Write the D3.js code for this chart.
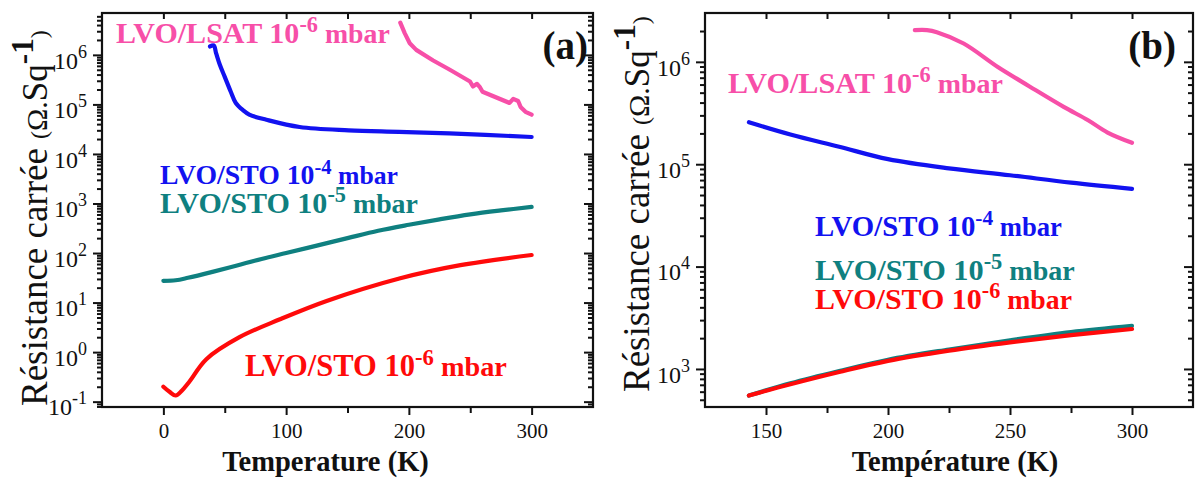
<!DOCTYPE html>
<html><head><meta charset="utf-8">
<script src="https://cdn.jsdelivr.net/npm/d3@7"></script>
<style>
body{margin:0;background:#fff}
svg{display:block}
</style>
</head><body>
<svg id="c" width="1196" height="480"></svg>
<script>
// ---------- DATA ----------
// Panel (a)
const tA_LSAT = [193, 196.6, 200.7, 206, 219.8, 233.4, 249.8, 252.2, 255.5, 258, 260, 282, 285, 289, 291, 295, 300];
const rA_LSAT = [4.47e6, 2.75e6, 1.72e6, 1.26e6, 7.7e5, 5.0e5, 2.9e5, 2.3e5, 2.6e5, 2.2e5, 1.8e5, 1.07e5, 1.29e5, 1.17e5, 8.9e4, 7.1e4, 6.2e4];
const tA_STO4 = [38, 41, 43, 46, 50, 55, 59, 65, 70, 84, 111, 151, 192, 233, 300];
const rA_STO4 = [1.48e6, 1.55e6, 1.07e6, 6.3e5, 3.6e5, 1.78e5, 1.07e5, 7.6e4, 6.2e4, 4.9e4, 3.5e4, 3.0e4, 2.8e4, 2.6e4, 2.2e4];
const tA_STO5 = [0, 10, 20, 40, 60, 80, 100, 125, 150, 175, 200, 225, 250, 275, 300];
const rA_STO5 = [27.5, 28.2, 31.6, 41.7, 56.2, 75.9, 100, 141, 200, 282, 372, 479, 603, 724, 851];
const tA_STO6 = [0, 5, 10, 15, 21, 35, 62, 95, 133, 193, 242, 300];
const rA_STO6 = [0.2, 0.158, 0.133, 0.166, 0.25, 0.72, 2.0, 4.6, 10.8, 31.0, 57.0, 91.2];
// Panel (b)
const tB_LSAT = [211, 216, 220, 231, 245, 258, 272, 282, 290, 300];
const rB_LSAT = [2.04e6, 2.04e6, 1.95e6, 1.51e6, 8.9e5, 5.75e5, 3.63e5, 2.69e5, 2.04e5, 1.62e5];
const tB_STO = [143, 160, 180, 200, 225, 250, 275, 300];
const rB_STO4 = [2.57e5, 1.95e5, 1.48e5, 1.12e5, 9.1e4, 7.8e4, 6.6e4, 5.75e4];
const rB_STO5 = [550, 724, 955, 1230, 1550, 1905, 2290, 2630];
const rB_STO6 = [550, 708, 933, 1200, 1510, 1820, 2140, 2455];
// ticks
const xTicksA = [0, 100, 200, 300];
const xMinorA = [50, 150, 250];
const yDecadesA = [1e-1, 1e0, 1e1, 1e2, 1e3, 1e4, 1e5, 1e6];
const xTicksB = [150, 200, 250, 300];
const xMinorB = [175, 225, 275];
const yDecadesB = [1e3, 1e4, 1e5, 1e6];

const COL = {lsat: "#f74fa8", sto4: "#1212f0", sto5: "#0f8080", sto6: "#ff0a0a"};
const FONT = '"Liberation Serif", "DejaVu Serif", serif';

const svg = d3.select("#c");

function minorsFor(domain) {
  const out = [];
  for (let e = -3; e <= 8; e++) for (let m = 2; m <= 9; m++) {
    const v = m * Math.pow(10, e);
    if (v > domain[0] && v < domain[1]) out.push(v);
  }
  return out;
}

function panel(cfg) {
  const {x0, x1, y0, y1, xDomain, yDomain} = cfg;
  const x = d3.scaleLinear().domain(xDomain).range([x0, x1]);
  const y = d3.scaleLog().domain(yDomain).range([y1, y0]);
  const g = svg.append("g");
  const yMinor = minorsFor(yDomain);

  // bottom axis
  const gb = g.append("g").attr("transform", `translate(0,${y1})`)
    .call(d3.axisBottom(x).tickValues(cfg.xTicks).tickSize(8).tickPadding(8).tickFormat(d3.format("d")));
  gb.selectAll("text").attr("font-size", 21).attr("fill", "#111");
  g.append("g").attr("transform", `translate(0,${y1})`)
    .call(d3.axisBottom(x).tickValues(cfg.xMinor).tickSize(6).tickFormat(""));
  // top axis (inward)
  g.append("g").attr("transform", `translate(0,${y0})`)
    .call(d3.axisBottom(x).tickValues(cfg.xTicks.concat(cfg.xMinor)).tickSize(6).tickFormat(""));
  // left axis
  const gl = g.append("g").attr("transform", `translate(${x0},0)`)
    .call(d3.axisLeft(y).tickValues(cfg.yDecades).tickSize(9).tickPadding(6).tickFormat(() => ""));
  gl.selectAll(".tick text").each(function(d) {
    const t = d3.select(this).attr("font-size", 24).attr("fill", "#111").attr("dy", "0.55em");
    t.append("tspan").text("10");
    t.append("tspan").attr("font-size", 18).attr("dy", -11).text(String(Math.round(Math.log10(d))));
  });
  g.append("g").attr("transform", `translate(${x0},0)`)
    .call(d3.axisLeft(y).tickValues(yMinor).tickSize(5).tickFormat(""));
  // right axis (inward)
  g.append("g").attr("transform", `translate(${x1},0)`)
    .call(d3.axisLeft(y).tickValues(cfg.yDecades).tickSize(9).tickFormat(""));
  g.append("g").attr("transform", `translate(${x1},0)`)
    .call(d3.axisLeft(y).tickValues(yMinor).tickSize(5).tickFormat(""));
  g.selectAll(".domain").remove();
  g.selectAll(".tick line").attr("stroke", "#111").attr("stroke-width", 2);

  g.append("rect").attr("x", x0).attr("y", y0).attr("width", x1 - x0).attr("height", y1 - y0)
    .attr("fill", "none").attr("stroke", "#111").attr("stroke-width", 2.2);

  const clip = "clip" + cfg.id;
  svg.append("clipPath").attr("id", clip).append("rect")
    .attr("x", x0).attr("y", y0).attr("width", x1 - x0).attr("height", y1 - y0);
  const lg = g.append("g").attr("clip-path", `url(#${clip})`);
  cfg.series.forEach(s => {
    const pts = s.t.map((t, i) => [t, s.r[i]]);
    const line = d3.line().x(d => x(d[0])).y(d => y(d[1]))
      .curve(s.sharp ? d3.curveLinear : d3.curveCatmullRom.alpha(0.5));
    lg.append("path").datum(pts).attr("d", line).attr("fill", "none")
      .attr("stroke", s.color).attr("stroke-width", 4.2)
      .attr("stroke-linecap", "round").attr("stroke-linejoin", "round");
  });

  // x title
  g.append("text").attr("x", (x0 + x1) / 2 + cfg.xTitleShift).attr("y", 471).attr("text-anchor", "middle")
    .attr("font-size", 28.5).attr("font-weight", "bold").attr("fill", "#111").text(cfg.xTitle);

  // y title
  const yt = g.append("text").attr("transform", `translate(${cfg.yTitleX},${cfg.yTitleY}) rotate(-90)`)
    .attr("fill", "#111");
  yt.append("tspan").attr("font-size", 37).text("Résistance carrée ");
  yt.append("tspan").attr("font-size", 24).text(" (");
  yt.append("tspan").attr("font-size", 30).text("Ω.");
  yt.append("tspan").attr("font-size", 35).text("Sq");
  yt.append("tspan").attr("font-size", 31).attr("font-weight", "bold").attr("dy", -14).text("-1");
  yt.append("tspan").attr("font-size", 24).attr("dy", 14).text(")");

  // panel letter
  g.append("text").attr("x", cfg.letterX).attr("y", cfg.letterY).attr("text-anchor", "end")
    .attr("font-size", 39).attr("font-weight", "bold").attr("fill", "#111").text(cfg.letter);

  g.selectAll("text").style("font-family", FONT);

  // labels, scaled to the width they take in the figure
  cfg.labels.forEach(l => {
    const lgp = g.append("g");
    const t = lgp.append("text").attr("x", 0).attr("y", 0).attr("fill", l.color)
      .attr("font-weight", "bold").attr("font-size", 27).style("font-family", FONT);
    t.append("tspan").text(l.main + " 10");
    t.append("tspan").attr("font-size", 20).attr("dy", -10).text(l.sup);
    t.append("tspan").attr("font-size", 25).attr("dy", 10).text(" mbar");
    const w = t.node().getComputedTextLength();
    const k = l.w / w;
    lgp.attr("transform", `translate(${l.x},${l.y}) scale(${k})`);
  });
}

panel({
  id: "a", x0: 102, x1: 593, y0: 13, y1: 407, xDomain: [-50, 350], yDomain: [0.078, 7e6],
  xTicks: xTicksA, xMinor: xMinorA, yDecades: yDecadesA,
  xTitle: "Temperature (K)", xTitleShift: -22, yTitleX: 47, yTitleY: 406,
  letter: "(a)", letterX: 588, letterY: 59,
  series: [
    {t: tA_LSAT, r: rA_LSAT, color: COL.lsat, sharp: true},
    {t: tA_STO4, r: rA_STO4, color: COL.sto4},
    {t: tA_STO5, r: rA_STO5, color: COL.sto5},
    {t: tA_STO6, r: rA_STO6, color: COL.sto6}
  ],
  labels: [
    {x: 116, y: 43, w: 274, color: COL.lsat, main: "LVO/LSAT", sup: "-6"},
    {x: 160, y: 184, w: 238, color: COL.sto4, main: "LVO/STO", sup: "-4"},
    {x: 160, y: 213, w: 258, color: COL.sto5, main: "LVO/STO", sup: "-5"},
    {x: 245, y: 376, w: 262, color: COL.sto6, main: "LVO/STO", sup: "-6"}
  ]
});

panel({
  id: "b", x0: 705, x1: 1193, y0: 13, y1: 407, xDomain: [125, 325], yDomain: [425, 3e6],
  xTicks: xTicksB, xMinor: xMinorB, yDecades: yDecadesB,
  xTitle: "Température (K)", xTitleShift: 6, yTitleX: 649, yTitleY: 392,
  letter: "(b)", letterX: 1176, letterY: 59,
  series: [
    {t: tB_LSAT, r: rB_LSAT, color: COL.lsat},
    {t: tB_STO, r: rB_STO4, color: COL.sto4},
    {t: tB_STO, r: rB_STO5, color: COL.sto5},
    {t: tB_STO, r: rB_STO6, color: COL.sto6}
  ],
  labels: [
    {x: 728, y: 93, w: 275, color: COL.lsat, main: "LVO/LSAT", sup: "-6"},
    {x: 815, y: 236, w: 247, color: COL.sto4, main: "LVO/STO", sup: "-4"},
    {x: 815, y: 280, w: 260, color: COL.sto5, main: "LVO/STO", sup: "-5"},
    {x: 815, y: 309, w: 257, color: COL.sto6, main: "LVO/STO", sup: "-6"}
  ]
});
</script>
</body></html>
